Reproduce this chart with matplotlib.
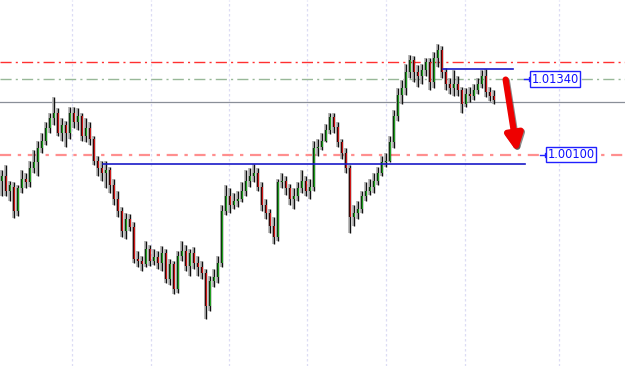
import matplotlib

matplotlib.use("Agg")
import matplotlib.pyplot as plt
import numpy as np

# OHLC (one entry per candle, left to right)
opens = [
    0.9967, 0.9974, 0.9950, 0.9957, 0.9917, 0.9954, 0.9970, 0.9964, 0.9987, 0.9997,
    1.0020, 1.0033, 1.0053, 1.0070, 1.0079, 1.0046, 1.0058, 1.0045, 1.0079, 1.0063,
    1.0073, 1.0041, 1.0053, 1.0036, 1.0000, 0.9987, 0.9980, 0.9984, 0.9959, 0.9937,
    0.9917, 0.9884, 0.9904, 0.9891, 0.9838, 0.9835, 0.9830, 0.9855, 0.9835, 0.9841,
    0.9831, 0.9848, 0.9805, 0.9830, 0.9788, 0.9843, 0.9851, 0.9826, 0.9848, 0.9831,
    0.9825, 0.9815, 0.9760, 0.9802, 0.9808, 0.9831, 0.9917, 0.9942, 0.9926, 0.9934,
    0.9937, 0.9950, 0.9967, 0.9975, 0.9980, 0.9957, 0.9926, 0.9914, 0.9893, 0.9874,
    0.9964, 0.9967, 0.9954, 0.9937, 0.9941, 0.9954, 0.9967, 0.9950, 0.9957, 1.0020,
    1.0023, 1.0033, 1.0050, 1.0071, 1.0056, 1.0030, 1.0013, 0.9987, 0.9907, 0.9914,
    0.9921, 0.9941, 0.9950, 0.9957, 0.9967, 0.9980, 0.9997, 1.0000, 1.0030, 1.0074,
    1.0108, 1.0119, 1.0146, 1.0165, 1.0146, 1.0139, 1.0149, 1.0162, 1.0129, 1.0169,
    1.0182, 1.0146, 1.0126, 1.0119, 1.0126, 1.0116, 1.0093, 1.0109, 1.0106, 1.0116,
    1.0126, 1.0139, 1.0113, 1.0106,
]
highs = [
    0.9984, 0.9992, 0.9967, 0.9964, 0.9959, 0.9984, 0.9980, 1.0000, 1.0017, 1.0033,
    1.0046, 1.0063, 1.0079, 1.0104, 1.0086, 1.0070, 1.0066, 1.0089, 1.0089, 1.0086,
    1.0079, 1.0070, 1.0063, 1.0041, 1.0008, 1.0000, 1.0000, 0.9990, 0.9970, 0.9950,
    0.9924, 0.9914, 0.9912, 0.9898, 0.9851, 0.9843, 0.9868, 0.9861, 0.9855, 0.9851,
    0.9860, 0.9855, 0.9838, 0.9835, 0.9851, 0.9868, 0.9861, 0.9855, 0.9858, 0.9843,
    0.9835, 0.9822, 0.9810, 0.9822, 0.9843, 0.9926, 0.9959, 0.9954, 0.9946, 0.9950,
    0.9964, 0.9984, 0.9987, 0.9995, 0.9987, 0.9964, 0.9937, 0.9921, 0.9907, 0.9970,
    0.9979, 0.9975, 0.9962, 0.9954, 0.9964, 0.9984, 0.9975, 0.9970, 1.0033, 1.0036,
    1.0046, 1.0060, 1.0079, 1.0078, 1.0063, 1.0036, 1.0020, 0.9993, 0.9926, 0.9934,
    0.9950, 0.9964, 0.9970, 0.9980, 0.9990, 1.0007, 1.0013, 1.0040, 1.0083, 1.0119,
    1.0132, 1.0159, 1.0174, 1.0172, 1.0157, 1.0159, 1.0169, 1.0169, 1.0179, 1.0192,
    1.0189, 1.0152, 1.0136, 1.0149, 1.0139, 1.0122, 1.0119, 1.0122, 1.0126, 1.0136,
    1.0149, 1.0151, 1.0122, 1.0116,
]
lows = [
    0.9942, 0.9942, 0.9934, 0.9906, 0.9909, 0.9947, 0.9954, 0.9957, 0.9980, 0.9975,
    1.0013, 1.0025, 1.0045, 1.0058, 1.0040, 1.0033, 1.0022, 1.0036, 1.0053, 1.0050,
    1.0033, 1.0030, 1.0025, 0.9992, 0.9975, 0.9967, 0.9954, 0.9947, 0.9926, 0.9907,
    0.9874, 0.9871, 0.9884, 0.9831, 0.9825, 0.9818, 0.9825, 0.9826, 0.9828, 0.9822,
    0.9818, 0.9798, 0.9795, 0.9780, 0.9782, 0.9835, 0.9818, 0.9810, 0.9822, 0.9810,
    0.9805, 0.9739, 0.9752, 0.9792, 0.9798, 0.9825, 0.9911, 0.9914, 0.9921, 0.9924,
    0.9931, 0.9941, 0.9957, 0.9964, 0.9950, 0.9917, 0.9904, 0.9881, 0.9863, 0.9868,
    0.9954, 0.9944, 0.9927, 0.9921, 0.9934, 0.9947, 0.9941, 0.9937, 0.9950, 1.0008,
    1.0017, 1.0030, 1.0043, 1.0046, 1.0023, 1.0003, 0.9980, 0.9881, 0.9893, 0.9904,
    0.9914, 0.9934, 0.9944, 0.9947, 0.9960, 0.9974, 0.9990, 0.9997, 1.0020, 1.0066,
    1.0093, 1.0108, 1.0136, 1.0129, 1.0122, 1.0126, 1.0139, 1.0116, 1.0119, 1.0155,
    1.0136, 1.0116, 1.0109, 1.0106, 1.0106, 1.0079, 1.0089, 1.0096, 1.0099, 1.0109,
    1.0119, 1.0104, 1.0098, 1.0093,
]
closes = [
    0.9974, 0.9950, 0.9959, 0.9917, 0.9954, 0.9970, 0.9964, 0.9987, 0.9997, 1.0020,
    1.0033, 1.0053, 1.0070, 1.0079, 1.0046, 1.0058, 1.0045, 1.0079, 1.0063, 1.0073,
    1.0041, 1.0053, 1.0036, 1.0000, 0.9987, 0.9980, 0.9984, 0.9959, 0.9937, 0.9917,
    0.9884, 0.9904, 0.9891, 0.9838, 0.9835, 0.9830, 0.9855, 0.9835, 0.9841, 0.9831,
    0.9848, 0.9805, 0.9830, 0.9788, 0.9843, 0.9851, 0.9826, 0.9848, 0.9831, 0.9825,
    0.9815, 0.9760, 0.9802, 0.9808, 0.9831, 0.9917, 0.9942, 0.9926, 0.9934, 0.9937,
    0.9950, 0.9967, 0.9975, 0.9980, 0.9957, 0.9926, 0.9914, 0.9893, 0.9874, 0.9964,
    0.9967, 0.9954, 0.9937, 0.9941, 0.9954, 0.9967, 0.9950, 0.9957, 1.0020, 1.0023,
    1.0033, 1.0050, 1.0071, 1.0056, 1.0030, 1.0013, 0.9987, 0.9907, 0.9914, 0.9921,
    0.9941, 0.9950, 0.9957, 0.9967, 0.9980, 0.9997, 1.0000, 1.0030, 1.0074, 1.0108,
    1.0119, 1.0146, 1.0165, 1.0146, 1.0139, 1.0149, 1.0162, 1.0129, 1.0169, 1.0182,
    1.0146, 1.0126, 1.0119, 1.0126, 1.0116, 1.0093, 1.0109, 1.0106, 1.0116, 1.0126,
    1.0139, 1.0113, 1.0106, 1.0099,
]

# drawn levels
red_level = 1.0162
target_high = 1.0134
flat_level = 1.0096
target_low = 1.0010
support_level = 0.9995
resist_level = 1.0151
session_breaks = [17.5, 37.25, 56.75, 76.25, 96.0, 115.75, 139.25]

fig = plt.figure(figsize=(6.25, 3.66), dpi=100)
ax = fig.add_axes([0, 0, 1, 1])
ax.set_xlim(-0.5, 155.75)
ax.set_ylim(0.96615, 1.02646)
ax.axis("off")

for xb in session_breaks:
    ax.axvline(xb, color="#dcdcf4", lw=0.9, ls=(0, (2, 2)), zorder=0)

ax.axhline(red_level, color="#ff3030", lw=1.0, ls=(0, (8, 3, 1.5, 3)), zorder=1)
ax.axhline(target_high, color="#98b898", lw=1.0, ls=(0, (8, 3, 1.5, 3)), zorder=1)
ax.axhline(flat_level, color="#8a8f98", lw=0.9, zorder=1)
ax.axhline(target_low, color="#ff8f8f", lw=1.6, ls=(0, (5, 3, 1.5, 3)), zorder=1)
ax.plot([25.25, 130.75], [support_level] * 2, color="#1a1ac8", lw=1.2, zorder=4)
ax.plot([110.25, 127.75], [resist_level] * 2, color="#1a1ac8", lw=1.2, zorder=4)

o = np.array(opens)
h = np.array(highs)
l = np.array(lows)
c = np.array(closes)
x = np.arange(len(o))
up = c >= o
bot = np.minimum(o, c)
tall = np.maximum(np.abs(c - o), 0.00012)

ax.vlines(x - 0.3, l, h, color="#b0b0b0", lw=1.2, zorder=2)
ax.vlines(x + 0.05, l, h, color="#101010", lw=1.0, zorder=3)
ax.bar(x - 0.3, tall, 0.32, bottom=bot, color="#a4a4a4", zorder=3)
ax.bar(x - 0.02, tall, 0.32, bottom=bot, color=np.where(up, "#0a3a0a", "#3a0505"), zorder=3)
ax.bar(x + 0.24, tall, 0.26, bottom=bot, color=np.where(up, "#22a022", "#d01818"), zorder=3)

# trade arrow
ax.annotate("", xy=(129.2, 1.0007), xytext=(126.1, 1.0136),
            arrowprops=dict(arrowstyle="-|>,head_width=0.5,head_length=1.0",
                            color="#404040", lw=4.5, alpha=0.6), zorder=5)
ax.annotate("", xy=(128.9, 1.0009), xytext=(125.8, 1.0138),
            arrowprops=dict(arrowstyle="-|>,head_width=0.5,head_length=1.0",
                            color="#ee0000", lw=4.5), zorder=6)

box = dict(boxstyle="square,pad=0.12", fc="white", ec="#2020ff", lw=1.0)
ax.plot([130.5, 132.2], [target_high] * 2, color="#2020ff", lw=1, zorder=6)
ax.plot([132.2], [target_high], marker="s", ms=2.5, mfc="white", mec="#2020ff", zorder=7)
ax.text(132.4, target_high, "1.01340", color="#1010ff", fontsize=8.3,
        va="center", ha="left", bbox=box, zorder=7)
ax.plot([134.5, 136.2], [target_low] * 2, color="#2020ff", lw=1, zorder=6)
ax.plot([136.2], [target_low], marker="s", ms=2.5, mfc="white", mec="#2020ff", zorder=7)
ax.text(136.4, target_low, "1.00100", color="#1010ff", fontsize=8.3,
        va="center", ha="left", bbox=box, zorder=7)

fig.savefig("out.png", dpi=100)
